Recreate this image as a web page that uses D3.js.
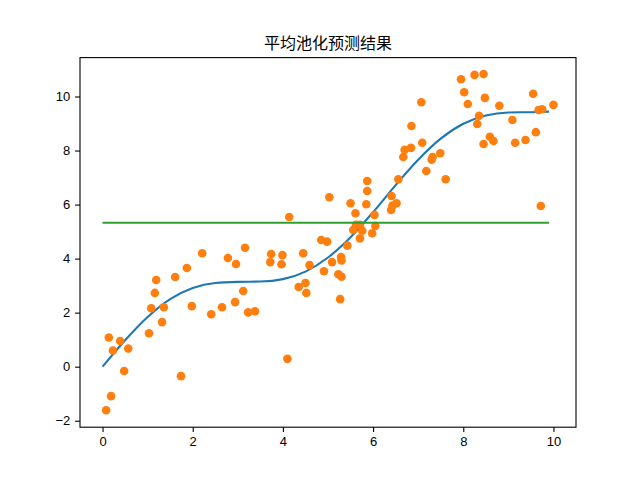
<!DOCTYPE html>
<html>
<head>
<meta charset="utf-8">
<script src="https://cdn.jsdelivr.net/npm/d3@7"></script>
<style>
  body { margin: 0; background: #fff; }
  svg { display: block; }
</style>
</head>
<body>
<svg id="drawing_region"></svg>
<script>
// training samples (x, y)
const sample_x = [0.08, 0.19, 0.14, 0.23, 0.39, 0.48, 0.57, 1.03, 1.08, 1.16,
    1.19, 1.32, 1.36, 1.61, 1.74, 1.87, 1.98, 2.21, 2.41, 2.65,
    2.78, 2.94, 2.96, 3.12, 3.16, 3.23, 3.38, 3.74, 3.72, 3.99,
    3.97, 4.10, 4.14, 4.35, 4.50, 4.52, 4.45, 4.59, 4.91, 4.85,
    4.98, 5.09, 5.03, 5.23, 5.30, 5.29, 5.30, 5.27, 5.43, 5.50,
    5.61, 5.56, 5.62, 5.71, 5.76, 5.71, 5.87, 5.87, 5.85, 6.03,
    6.05, 5.98, 6.41, 6.40, 6.43, 6.52, 6.56, 6.67, 6.70, 6.84,
    6.85, 7.07, 7.09, 7.18, 7.30, 7.32, 7.49, 7.61, 7.95, 8.25,
    8.45, 8.02, 8.10, 8.48, 8.80, 8.35, 8.31, 8.59, 8.67, 8.45,
    9.09, 9.15, 9.38, 9.61, 9.55, 9.67, 9.75, 10.00, 9.72];
const sample_y = [-1.61, -1.09, 1.08, 0.60, 0.95, -0.16, 0.67, 1.24, 2.16, 2.73,
    3.21, 1.65, 2.20, 3.32, -0.35, 3.65, 2.24, 4.20, 1.94, 2.20,
    4.02, 2.39, 3.80, 2.80, 4.40, 2.01, 2.05, 4.17, 3.87, 4.13,
    3.79, 0.29, 5.54, 2.95, 3.10, 2.73, 4.20, 3.76, 3.53, 4.69,
    4.63, 3.87, 6.27, 3.42, 3.33, 4.06, 3.93, 2.50, 4.48, 6.05,
    5.68, 5.06, 5.25, 5.25, 5.03, 4.75, 6.87, 6.50, 6.01, 5.62,
    5.21, 4.94, 6.32, 5.80, 5.96, 6.05, 6.94, 7.76, 8.03, 8.10,
    8.91, 9.79, 8.29, 7.24, 7.66, 7.76, 7.90, 6.94, 10.64, 10.80,
    10.83, 10.16, 9.72, 9.95, 9.66, 9.29, 8.98, 8.51, 8.35, 8.24,
    9.13, 8.29, 8.39, 8.68, 10.10, 9.50, 9.53, 9.69, 5.95];

// true curve, read at steps of 0.5 (last point at 9.9)
const curve_x = [0, 0.5, 1, 1.5, 2, 2.5, 3, 3.5, 4, 4.5, 5, 5.5, 6, 6.5, 7, 7.5, 8, 8.5, 9, 9.5, 9.9];
const curve_y = [0, 0.98, 1.84, 2.5, 2.91, 3.1, 3.14, 3.15, 3.24, 3.52, 4.04, 4.79, 5.72, 6.72, 7.66, 8.44, 8.99, 9.30, 9.41, 9.42, 9.44];

// average pooling prediction (flat)
const pred_x = [0, 9.9];
const pred_y = [5.33, 5.33];

const x_ticks = [0, 2, 4, 6, 8, 10];
const y_ticks = [-2, 0, 2, 4, 6, 8, 10];
const title = "平均池化预测结果";

const config = {
    width: 640,
    height: 480,
    margin: {top: 57.6, right: 64, bottom: 52.8, left: 80}
};

const svg = d3.select('#drawing_region')
    .attr('width', config.width)
    .attr('height', config.height);

const inner_width = config.width - config.margin.left - config.margin.right;
const inner_height = config.height - config.margin.top - config.margin.bottom;

const chart = svg.append('g')
    .attr('transform', `translate(${config.margin.left}, ${config.margin.top})`);

const xscale = d3.scaleLinear().domain([-0.5, 10.5]).range([0, inner_width]);
const yscale = d3.scaleLinear().domain([-2.24, 11.44]).range([inner_height, 0]);

const xaxis = d3.axisBottom(xscale).tickValues(x_ticks).tickSize(4.9).tickPadding(4.9).tickSizeOuter(0);
const yaxis = d3.axisLeft(yscale).tickValues(y_ticks).tickSize(4.9).tickPadding(4.9).tickSizeOuter(0);

// blue curve
const line = d3.line()
    .x((d, i) => xscale(curve_x[i]))
    .y(d => yscale(d))
    .curve(d3.curveMonotoneX);

chart.append('path')
    .datum(curve_y)
    .attr('d', line)
    .attr('fill', 'none')
    .attr('stroke', '#1f77b4')
    .attr('stroke-width', 2.1);

// scatter
chart.selectAll('circle').data(sample_y)
    .enter()
    .append('circle')
    .attr('cx', (d, i) => xscale(sample_x[i]))
    .attr('cy', d => yscale(d))
    .attr('r', 4.3)
    .attr('fill', '#ff7f0e');

// green prediction line
const pline = d3.line()
    .x((d, i) => xscale(pred_x[i]))
    .y(d => yscale(d));

chart.append('path')
    .datum(pred_y)
    .attr('d', pline)
    .attr('fill', 'none')
    .attr('stroke', '#2ca02c')
    .attr('stroke-width', 2.1);

// axes
const xg = chart.append('g')
    .attr('transform', `translate(0, ${inner_height})`)
    .call(xaxis);
const yg = chart.append('g').call(yaxis);

[xg, yg].forEach(g => {
    g.select('.domain').remove();
    g.selectAll('line').attr('stroke', '#000').attr('stroke-width', 1.1);
    g.selectAll('text')
        .attr('fill', '#000')
        .style('font-family', '"Liberation Sans", Arial, sans-serif')
        .style('font-size', '13px');
});
yg.selectAll('text').text(d => d < 0 ? '\u2212' + Math.abs(d) : d);

// frame
chart.append('rect')
    .attr('x', 0)
    .attr('y', 0)
    .attr('width', inner_width)
    .attr('height', inner_height)
    .attr('fill', 'none')
    .attr('stroke', '#000')
    .attr('stroke-width', 1.1);

svg.append('text')
    .attr('x', config.margin.left + inner_width / 2)
    .attr('y', config.margin.top - 9)
    .attr('text-anchor', 'middle')
    .style('font-family', '"Noto Sans CJK SC", sans-serif')
    .style('font-size', '16px')
    .text(title);
</script>
</body>
</html>
